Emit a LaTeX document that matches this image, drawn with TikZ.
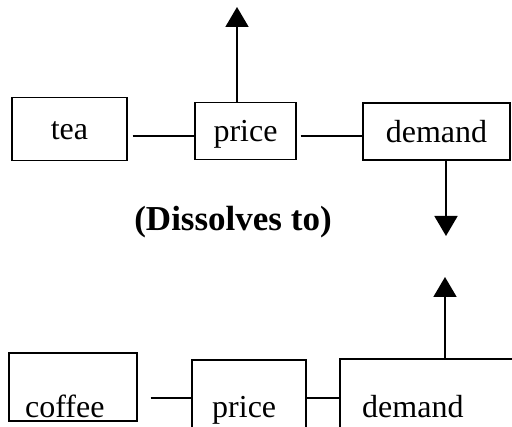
\documentclass[tikz,border=0pt]{standalone}
\usepackage{fontspec}
\setmainfont{Liberation Serif}
\usetikzlibrary{arrows.meta}
\begin{document}
\begin{tikzpicture}[x=1pt,y=-1pt,
	box/.style={draw,line width=1.4pt,inner sep=0pt,text height=27pt,text depth=5pt,font=\fontsize{32}{38}\selectfont},
	word/.style={inner sep=0pt,anchor=base west,font=\fontsize{32}{38}\selectfont},
	link/.style={line width=1.4pt},
	arr/.style={line width=1.8pt,-{Triangle[width=23pt,length=20pt]}}]
	\useasboundingbox (0,0) rectangle (512,427);
	\clip (0,0) rectangle (512,427);
	\node[box,minimum width=115,minimum height=63] (tea) at (69.5,129) {tea};
	\node[box,minimum width=101,minimum height=57] (price1) at (245.5,131) {price};
	\node[box,minimum width=147,minimum height=57] (demand1) at (436.5,131.5) {demand};
	\coordinate (ptop) at (237,7);
	\coordinate (dbot) at (446,236);
	\draw[link,shorten <=5pt] (tea.east |- 0,136) -- (price1.west |- 0,136);
	\draw[link,shorten <=4pt] (price1.east |- 0,136) -- (demand1.west |- 0,136);
	\draw[arr] (price1.north -| ptop) -- (ptop);
	\draw[arr] (demand1.south -| dbot) -- (dbot);
	\node[font=\bfseries\fontsize{35}{42}\selectfont] (dissolve) at (233,222) {(Dissolves to)};
	\node[box,minimum width=128,minimum height=68] (coffee) at (73,387) {};
	\node[box,minimum width=114,minimum height=100] (price2) at (249,410) {};
	\node[box,minimum width=200,minimum height=100] (demand2) at (440,409) {};
	\node[word] (coffeetxt) at (25,418) {coffee};
	\node[word] (price2txt) at (212,418) {price};
	\node[word] (demand2txt) at (362,418) {demand};
	\coordinate (dtop) at (445,277);
	\draw[link,shorten <=13pt] (coffee.east |- 0,398) -- (price2.west |- 0,398);
	\draw[link] (price2.east |- 0,398) -- (demand2.west |- 0,398);
	\draw[arr] (demand2.north -| dtop) -- (dtop);
\end{tikzpicture}
\end{document}
